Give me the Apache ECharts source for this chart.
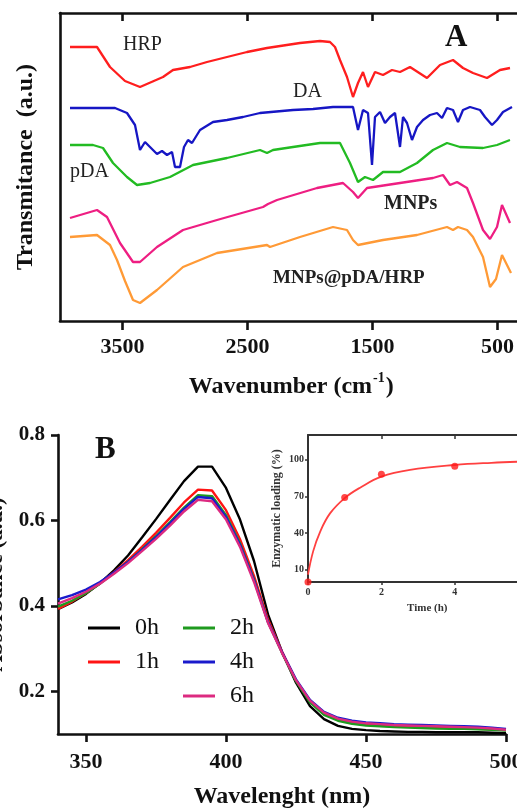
<!DOCTYPE html>
<html>
<head>
<meta charset="utf-8">
<script src="https://cdn.jsdelivr.net/npm/echarts@6/dist/echarts.min.js"></script>
<style>
html,body{margin:0;padding:0;background:#fff;}
#chart{width:517px;height:809px;}
</style>
</head>
<body>
<div id="chart"></div>
<script>
// ---------- Panel A: FTIR spectra (wavenumber cm-1, transmittance a.u. offset) ----------
const ftirHRP = [[3920,274],[3704,274],[3600,254],[3480,240],[3360,234],[3176,244],[3096,251],[2960,254],[2824,259],[2504,269],[2344,273],[2080,278],[1920,280],[1840,279],[1800,274],[1760,261],[1704,244],[1656,224],[1616,238],[1576,249],[1536,234],[1480,249],[1416,246],[1344,251],[1280,249],[1200,254],[1064,243],[960,256],[856,261],[776,253],[696,248],[584,243],[480,251],[400,253]];
const ftirDA = [[3920,213],[3560,213],[3464,208],[3400,196],[3360,171],[3320,179],[3280,174],[3224,167],[3184,170],[3144,166],[3104,169],[3080,154],[3040,154],[3008,174],[2976,181],[2944,178],[2880,191],[2776,199],[2664,201],[2536,204],[2400,208],[2136,211],[1976,212],[1816,214],[1656,214],[1616,191],[1576,211],[1536,208],[1504,156],[1480,204],[1440,209],[1400,198],[1360,204],[1320,208],[1280,174],[1256,204],[1224,198],[1184,181],[1144,194],[1096,201],[1040,206],[984,208],[944,203],[904,213],[856,211],[816,199],[776,211],[720,214],[640,211],[600,204],[544,196],[504,201],[456,209],[384,214]];
const ftirPDA = [[3920,176],[3736,176],[3656,173],[3576,158],[3464,144],[3384,136],[3280,138],[3120,144],[2936,156],[2664,163],[2400,171],[2344,168],[2296,171],[2136,174],[1920,178],[1760,178],[1680,158],[1616,139],[1560,144],[1496,141],[1416,149],[1280,149],[1144,158],[1016,171],[904,178],[800,174],[616,173],[504,176],[400,181]];
const ftirMNPs = [[3920,103],[3704,111],[3624,104],[3520,78],[3416,59],[3360,59],[3224,74],[3016,91],[2744,101],[2376,114],[2336,117],[2264,121],[1944,133],[1736,138],[1656,129],[1616,123],[1544,133],[1280,138],[1016,143],[936,146],[880,136],[824,139],[744,133],[696,118],[616,91],[560,82],[504,94],[464,116],[400,98]];
const ftirMNPsPDAHRP = [[3920,84],[3704,86],[3600,76],[3544,61],[3480,40],[3416,21],[3360,18],[3224,31],[3016,54],[2880,61],[2744,68],[2344,76],[2320,74],[2080,84],[1816,94],[1704,91],[1656,81],[1616,76],[1416,81],[1144,86],[904,94],[856,91],[816,94],[744,91],[696,84],[616,64],[560,34],[512,42],[464,66],[392,48]];
const ftirTicks = [3500, 2500, 1500, 500];

// ---------- Panel B: UV-vis absorbance ----------
const wavelengths = [340,345,350,355,360,365,370,375,380,385,390,395,400,405,410,415,420,425,430,435,440,445,450,455,460,465,470,475,480,485,490,495,500];
const abs0h = [0.392,0.408,0.428,0.453,0.483,0.518,0.560,0.603,0.648,0.692,0.726,0.726,0.676,0.602,0.505,0.380,0.292,0.220,0.165,0.135,0.119,0.112,0.109,0.107,0.106,0.105,0.105,0.104,0.104,0.104,0.104,0.103,0.102];
const abs1h = [0.393,0.410,0.430,0.453,0.479,0.507,0.538,0.571,0.606,0.642,0.672,0.670,0.624,0.556,0.470,0.368,0.293,0.225,0.176,0.148,0.134,0.127,0.123,0.120,0.118,0.117,0.116,0.115,0.114,0.113,0.112,0.111,0.109];
const abs2h = [0.398,0.412,0.430,0.452,0.477,0.503,0.532,0.563,0.596,0.630,0.659,0.657,0.612,0.546,0.462,0.362,0.290,0.224,0.174,0.145,0.131,0.124,0.120,0.118,0.116,0.115,0.114,0.113,0.112,0.112,0.111,0.110,0.108];
const abs4h = [0.415,0.425,0.438,0.456,0.478,0.503,0.531,0.561,0.593,0.627,0.655,0.652,0.608,0.543,0.460,0.362,0.292,0.228,0.180,0.152,0.138,0.131,0.127,0.125,0.123,0.122,0.121,0.120,0.119,0.118,0.117,0.115,0.112];
const abs6h = [0.405,0.418,0.433,0.452,0.475,0.500,0.528,0.557,0.588,0.621,0.648,0.645,0.602,0.538,0.456,0.360,0.290,0.226,0.178,0.150,0.136,0.129,0.125,0.123,0.121,0.120,0.119,0.118,0.117,0.116,0.115,0.113,0.110];
const wlTicks = [350, 400, 450, 500];
const absTicks = [0.2, 0.4, 0.6, 0.8];

// ---------- Inset: enzymatic loading vs time ----------
const loadTime = [0, 1, 2, 4, 6];
const loadValue = [0, 69, 88, 94.5, 97];
const fitTime = [0, 0.14, 0.33, 0.6, 1, 1.42, 2, 2.78, 4, 5, 6, 6.5];
const fitValue = [6, 25, 41, 56, 68.5, 77, 86, 91.5, 95.5, 97.3, 98.5, 99];
const timeTicks = [0, 2, 4, 6];
const loadTicks = [10, 40, 70, 100];

const SERIF = '"Liberation Serif", "DejaVu Serif", serif';
const pair = (xs, ys) => xs.map((x, i) => [x, ys[i]]);

const chart = echarts.init(document.getElementById('chart'), null, {renderer: 'canvas'});

const axisLine = {show: true, lineStyle: {color: '#111', width: 2.6}};
const ftirLine = (name, data, color) => ({
  name, type: 'line', xAxisIndex: 0, yAxisIndex: 0, data,
  showSymbol: false, symbol: 'none', lineStyle: {color, width: 2.3}, itemStyle: {color}, silent: true, animation: false
});
const uvLine = (name, ys, color) => ({
  name, type: 'line', xAxisIndex: 2, yAxisIndex: 1, data: pair(wavelengths, ys),
  showSymbol: false, symbol: 'none', lineStyle: {color, width: 2.4}, itemStyle: {color}, animation: false
});

const option = {
  backgroundColor: '#fff',
  animation: false,
  grid: [
    {left: 60, top: 13, width: 462.5, height: 308, outerBoundsMode: 'none'},
    {left: 58, top: 435, width: 448, height: 299, outerBoundsMode: 'none'},
    {left: 308, top: 435, width: 238.5, height: 147, outerBoundsMode: 'none'}
  ],
  xAxis: [
    { // A bottom
      gridIndex: 0, type: 'value', min: 300, max: 4000, inverse: true, position: 'bottom',
      axisLine, splitLine: {show: false},
      axisTick: {show: true, inside: false, length: 9, lineStyle: {color: '#111', width: 2.6}, customValues: ftirTicks},
      axisLabel: {show: true, margin: 15, fontFamily: SERIF, fontWeight: 'bold', fontSize: 22, color: '#111', customValues: ftirTicks,
        formatter: v => String(v)},
      name: '{n|Wavenumber (cm}{s|-1}{n|)}', nameLocation: 'middle', nameGap: 50,
      nameTextStyle: {rich: {
        n: {fontFamily: SERIF, fontWeight: 'bold', fontSize: 24, color: '#111', lineHeight: 28, verticalAlign: 'bottom'},
        s: {fontFamily: SERIF, fontWeight: 'bold', fontSize: 14, color: '#111', lineHeight: 28, verticalAlign: 'top', padding: [0, 1, 12, 1]}
      }}
    },
    { // A top (frame with inward ticks)
      gridIndex: 0, type: 'value', min: 300, max: 4000, inverse: true, position: 'top',
      axisLine, splitLine: {show: false},
      axisTick: {show: true, inside: true, length: 8, lineStyle: {color: '#111', width: 2.6}, customValues: ftirTicks},
      axisLabel: {show: false}
    },
    { // B bottom
      gridIndex: 1, type: 'value', min: 340, max: 500,
      axisLine, splitLine: {show: false},
      axisTick: {show: true, inside: false, length: 8, lineStyle: {color: '#111', width: 2.6}, customValues: wlTicks},
      axisLabel: {show: true, margin: 17, fontFamily: SERIF, fontWeight: 'bold', fontSize: 22, color: '#111', customValues: wlTicks,
        formatter: v => String(v)},
      name: 'Wavelenght (nm)', nameLocation: 'middle', nameGap: 51,
      nameTextStyle: {fontFamily: SERIF, fontWeight: 'bold', fontSize: 24, color: '#111'}
    },
    { // inset bottom
      gridIndex: 2, type: 'value', min: 0, max: 6.5,
      axisLine: {show: true, lineStyle: {color: '#333', width: 2}}, splitLine: {show: false},
      axisTick: {show: true, inside: false, length: 3, lineStyle: {color: '#333', width: 1.5}, customValues: timeTicks},
      axisLabel: {show: true, margin: 5, fontFamily: SERIF, fontWeight: 'bold', fontSize: 10, color: '#333', customValues: timeTicks},
      name: 'Time (h)', nameLocation: 'middle', nameGap: 21,
      nameTextStyle: {fontFamily: SERIF, fontWeight: 'bold', fontSize: 11, color: '#333'}
    },
    { // inset top
      gridIndex: 2, type: 'value', min: 0, max: 6.5, position: 'top',
      axisLine: {show: true, lineStyle: {color: '#333', width: 2}}, splitLine: {show: false},
      axisTick: {show: true, inside: true, length: 4, lineStyle: {color: '#333', width: 1.5}, customValues: timeTicks},
      axisLabel: {show: false}
    }
  ],
  yAxis: [
    { // A left
      gridIndex: 0, type: 'value', min: 0, max: 308,
      axisLine, splitLine: {show: false}, axisTick: {show: false}, axisLabel: {show: false},
      name: 'Transmitance  (a.u.)', nameLocation: 'middle', nameGap: 22, nameRotate: 90,
      nameTextStyle: {fontFamily: SERIF, fontWeight: 'bold', fontSize: 24, color: '#111'}
    },
    { // B left
      gridIndex: 1, type: 'value', min: 0.1, max: 0.8,
      axisLine, splitLine: {show: false},
      axisTick: {show: true, inside: false, length: 7, lineStyle: {color: '#111', width: 2.6}, customValues: absTicks},
      axisLabel: {show: true, margin: 13, fontFamily: SERIF, fontWeight: 'bold', fontSize: 21, color: '#111', customValues: absTicks,
        formatter: v => v.toFixed(1)},
      name: 'Absorbance (a.u.)', nameLocation: 'middle', nameGap: 43, nameRotate: 90,
      nameTextStyle: {fontFamily: SERIF, fontWeight: 'bold', fontSize: 23, color: '#111'}
    },
    { // inset left
      gridIndex: 2, type: 'value', min: 0, max: 120,
      axisLine: {show: true, lineStyle: {color: '#333', width: 2}}, splitLine: {show: false},
      axisTick: {show: true, inside: false, length: 3, lineStyle: {color: '#333', width: 1.5}, customValues: loadTicks},
      axisLabel: {show: true, margin: 4, fontFamily: SERIF, fontWeight: 'bold', fontSize: 10, color: '#333', customValues: loadTicks},
      name: 'Enzymatic loading (%)', nameLocation: 'middle', nameGap: 25, nameRotate: 90,
      nameTextStyle: {fontFamily: SERIF, fontWeight: 'bold', fontSize: 12, color: '#333'}
    }
  ],
  legend: [
    {data: ['0h', '1h'], orient: 'vertical', left: 83, top: 610, itemWidth: 32, itemHeight: 3, itemGap: 8, icon: 'rect',
      textStyle: {fontFamily: SERIF, fontSize: 24, color: '#111', lineHeight: 26, padding: [0, 0, 0, 10]}, selectedMode: false},
    {data: ['2h', '4h', '6h'], orient: 'vertical', left: 178, top: 610, itemWidth: 32, itemHeight: 3, itemGap: 8, icon: 'rect',
      textStyle: {fontFamily: SERIF, fontSize: 24, color: '#111', lineHeight: 26, padding: [0, 0, 0, 10]}, selectedMode: false}
  ],
  series: [
    ftirLine('HRP', ftirHRP, '#ff1e1e'),
    ftirLine('DA', ftirDA, '#1616c4'),
    ftirLine('pDA', ftirPDA, '#22bb22'),
    ftirLine('MNPs', ftirMNPs, '#ee1e82'),
    ftirLine('MNPs@pDA/HRP', ftirMNPsPDAHRP, '#ff9a36'),
    uvLine('0h', abs0h, '#000000'),
    uvLine('1h', abs1h, '#ff1414'),
    uvLine('2h', abs2h, '#1f9a1f'),
    uvLine('4h', abs4h, '#1a1acc'),
    uvLine('6h', abs6h, '#dc2a80'),
    {
      name: 'fit', type: 'line', xAxisIndex: 3, yAxisIndex: 2, data: pair(fitTime, fitValue), smooth: 0.4,
      showSymbol: false, symbol: 'none', lineStyle: {color: '#ff4040', width: 1.8}
    },
    {
      name: 'loading', type: 'scatter', xAxisIndex: 3, yAxisIndex: 2, data: pair(loadTime, loadValue),
      symbol: 'circle', symbolSize: 7, itemStyle: {color: '#ff1a1a'}, clip: false, z: 5
    }
  ],
  graphic: [
    {type: 'text', left: 123, top: 35, style: {text: 'HRP', font: '20px ' + SERIF, fill: '#222'}},
    {type: 'text', left: 293, top: 82, style: {text: 'DA', font: '20px ' + SERIF, fill: '#222'}},
    {type: 'text', left: 70, top: 162, style: {text: 'pDA', font: '20px ' + SERIF, fill: '#222'}},
    {type: 'text', left: 384, top: 194, style: {text: 'MNPs', font: 'bold 20px ' + SERIF, fill: '#222'}},
    {type: 'text', left: 273, top: 269, style: {text: 'MNPs@pDA/HRP', font: 'bold 19px ' + SERIF, fill: '#222'}},
    {type: 'text', left: 445, top: 22, style: {text: 'A', font: 'bold 31px ' + SERIF, fill: '#111'}},
    {type: 'text', left: 95, top: 434, style: {text: 'B', font: 'bold 31px ' + SERIF, fill: '#111'}}
  ]
};
chart.setOption(option);
</script>
</body>
</html>
